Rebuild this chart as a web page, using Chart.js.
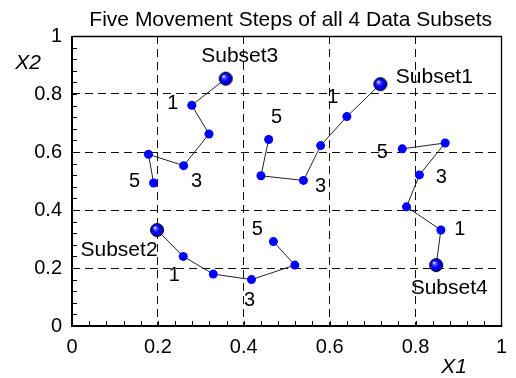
<!DOCTYPE html>
<html><head><meta charset="utf-8">
<script src="https://cdn.jsdelivr.net/npm/chart.js@4/dist/chart.umd.min.js"></script>
<style>html,body{margin:0;padding:0;background:#fff;}</style>
</head><body>
<canvas id="c" width="516" height="378"></canvas>
<script>
// ---- data ----
const subsetNames = ['Subset1', 'Subset2', 'Subset3', 'Subset4'];
const stepLabels = ['1', '3', '5'];
const stepIndex = [1, 3, 5];
const s1x = [0.718, 0.640, 0.579, 0.539, 0.440, 0.458];
const s1y = [0.834, 0.722, 0.622, 0.502, 0.518, 0.643];
const s2x = [0.198, 0.259, 0.329, 0.418, 0.519, 0.469];
const s2y = [0.331, 0.240, 0.179, 0.160, 0.210, 0.291];
const s3x = [0.358, 0.279, 0.319, 0.260, 0.178, 0.190];
const s3y = [0.853, 0.761, 0.662, 0.553, 0.592, 0.493];
const s4x = [0.848, 0.859, 0.779, 0.809, 0.869, 0.769];
const s4y = [0.210, 0.331, 0.411, 0.521, 0.631, 0.611];
const xTicks = [0, 0.2, 0.4, 0.6, 0.8, 1];
const yTicks = [0, 0.2, 0.4, 0.6, 0.8, 1];
const titleText = 'Five Movement Steps of all 4 Data Subsets';
const xTitle = 'X1';
const yTitle = 'X2';

// ---- label placement (pixel offsets from the anchor point) ----
const nameOffsets = [[54, -7], [-38, 20], [14, -22], [13, 23]];
const stepOffsets = [
  [[-14, -19], [17, 6], [8, -22]],
  [[-9, 19], [-2, 21], [-16, -12]],
  [[-19, -2], [13, 16], [-19, -2]],
  [[19, -1], [22, 3], [-20, 4]]
];

const FONT = 'Liberation Sans, Arial, sans-serif';

// sphere marker for starting points
function makeSphere() {
  const d = 16, c = document.createElement('canvas');
  c.width = d; c.height = d;
  const g = c.getContext('2d');
  const r = 6.5, cx = d / 2, cy = d / 2;
  const grad = g.createRadialGradient(cx - 2.2, cy - 2.4, 0.3, cx, cy, r);
  grad.addColorStop(0, '#ffffff');
  grad.addColorStop(0.2, '#5a5aff');
  grad.addColorStop(0.55, '#0000ff');
  grad.addColorStop(1, '#0000c0');
  g.beginPath(); g.arc(cx, cy, r, 0, Math.PI * 2);
  g.fillStyle = grad; g.fill();
  g.lineWidth = 1; g.strokeStyle = '#000'; g.stroke();
  return c;
}
const sphere = makeSphere();

const xs = [s1x, s2x, s3x, s4x];
const ys = [s1y, s2y, s3y, s4y];
const datasets = xs.map((xa, k) => ({
  label: subsetNames[k],
  data: xa.map((v, i) => ({ x: v, y: ys[k][i] })),
  showLine: true,
  borderColor: '#222',
  borderWidth: 1,
  backgroundColor: '#0000ff',
  pointBackgroundColor: '#0000ff',
  pointBorderWidth: 0,
  pointRadius: 4.5,
  pointStyle: (c) => c.dataIndex === 0 ? sphere : 'circle',
  tension: 0
}));

const frameAndTicks = {
  id: 'frameAndTicks',
  afterDatasetsDraw(chart) {
    const { ctx, chartArea: a, scales: { x, y } } = chart;
    ctx.save();
    ctx.strokeStyle = '#000';
    ctx.lineWidth = 1;
    ctx.beginPath();
    for (let i = 1; i < 25; i++) {
      const v = i * 0.04;
      const px = Math.round(x.getPixelForValue(v)) + 0.5;
      ctx.moveTo(px, a.bottom); ctx.lineTo(px, a.bottom - 5);
      const py = Math.round(y.getPixelForValue(v)) + 0.5;
      ctx.moveTo(a.left, py); ctx.lineTo(a.left + 5, py);
    }
    ctx.stroke();
    // top & right thin
    ctx.beginPath();
    ctx.moveTo(a.left, Math.round(a.top) + 0.5);
    ctx.lineTo(Math.round(a.right) + 0.5, Math.round(a.top) + 0.5);
    ctx.lineTo(Math.round(a.right) + 0.5, a.bottom);
    ctx.lineWidth = 1.3;
    ctx.stroke();
    // left & bottom thick
    ctx.beginPath();
    ctx.lineWidth = 2;
    ctx.moveTo(Math.round(a.left), a.top);
    ctx.lineTo(Math.round(a.left), Math.round(a.bottom));
    ctx.lineTo(a.right + 1, Math.round(a.bottom));
    ctx.stroke();
    ctx.restore();
  }
};

const textPlugin = {
  id: 'texts',
  afterDraw(chart) {
    const { ctx, chartArea: a, scales: { x, y } } = chart;
    ctx.save();
    ctx.fillStyle = '#000';
    ctx.textAlign = 'center';
    ctx.textBaseline = 'alphabetic';
    ctx.font = '21px ' + FONT;
    ctx.fillText(titleText, (a.left + a.right) / 2 + 4, 26);
    ctx.textBaseline = 'middle';
    ctx.font = 'italic 21px ' + FONT;
    ctx.fillText(yTitle, 28, 63);
    ctx.fillText(xTitle, 454, 367);
    for (let k = 0; k < xs.length; k++) {
      const ax = x.getPixelForValue(xs[k][0]);
      const ay = y.getPixelForValue(ys[k][0]);
      ctx.font = '21px ' + FONT;
      ctx.fillText(subsetNames[k], ax + nameOffsets[k][0], ay + nameOffsets[k][1]);
      ctx.font = '20px ' + FONT;
      stepIndex.forEach((si, j) => {
        const px = x.getPixelForValue(xs[k][si]);
        const py = y.getPixelForValue(ys[k][si]);
        ctx.fillText(stepLabels[j], px + stepOffsets[k][j][0], py + stepOffsets[k][j][1]);
      });
    }
    ctx.restore();
  }
};

const tickFmt = (v) => String(+(+v).toFixed(1));
const gridColor = (c) => (c.tick && (Math.abs(c.tick.value) < 1e-9 || Math.abs(c.tick.value - 1) < 1e-9)) ? 'rgba(0,0,0,0)' : '#111';

new Chart(document.getElementById('c'), {
  type: 'scatter',
  data: { datasets },
  options: {
    responsive: false,
    animation: false,
    events: [],
    layout: { padding: { left: 0, right: 12, top: 36, bottom: 0 } },
    plugins: { legend: { display: false }, tooltip: { enabled: false }, title: { display: false } },
    scales: {
      x: {
        type: 'linear', min: 0, max: 1,
        afterBuildTicks: (s) => { s.ticks = xTicks.map(v => ({ value: v })); },
        afterFit: (s) => { s.height = 52; },
        grid: { color: gridColor, lineWidth: 1, drawTicks: false },
        border: { display: false, dash: [8, 5] },
        ticks: { padding: 9, color: '#000', font: { family: FONT, size: 20 }, callback: tickFmt, maxRotation: 0, autoSkip: false }
      },
      y: {
        type: 'linear', min: 0, max: 1,
        afterBuildTicks: (s) => { s.ticks = yTicks.map(v => ({ value: v })); },
        afterFit: (s) => { s.width = 72; },
        grid: { color: gridColor, lineWidth: 1, drawTicks: false },
        border: { display: false, dash: [8, 5] },
        ticks: { padding: 10, color: '#000', font: { family: FONT, size: 20 }, callback: tickFmt, autoSkip: false }
      }
    }
  },
  plugins: [frameAndTicks, textPlugin]
});
</script>
</body></html>
